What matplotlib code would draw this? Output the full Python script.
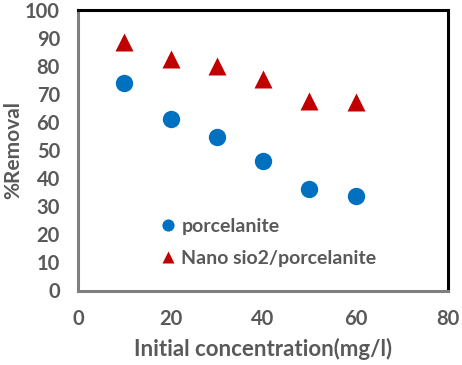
import matplotlib
matplotlib.use("Agg")
import matplotlib.pyplot as plt

conc = [10, 20, 30, 40, 50, 60]
porcelanite = [74.1, 61.3, 54.6, 46.0, 36.2, 33.6]
nano = [88.7, 82.4, 80.2, 75.4, 67.7, 67.2]
xticks = [0, 20, 40, 60, 80]
yticks = [0, 10, 20, 30, 40, 50, 60, 70, 80, 90, 100]

plt.rcParams['font.family'] = ['Lato', 'DejaVu Sans']
plt.rcParams['font.weight'] = 'bold'
gray = '#595959'

fig = plt.figure(figsize=(4.62, 3.65), dpi=100)
ax = fig.add_axes([78/462, 1 - 290.5/365, (448-78)/462, (290.5-10)/365])

ax.plot(conc, porcelanite, 'o', color='#0070C0', ms=12.5, mec='none', label='porcelanite', clip_on=False)
ax.plot(conc, nano, '^', color='#C00000', ms=12.5, mec='none', label='Nano sio2/porcelanite', clip_on=False)

ax.set_xlim(0, 80)
ax.set_ylim(0, 100)
ax.set_xticks(xticks)
ax.set_yticks(yticks)
ax.tick_params(length=0, labelsize=14.5, labelcolor=gray)
ax.tick_params(axis='x', pad=13)
ax.tick_params(axis='y', pad=13)
for lab in ax.get_xticklabels() + ax.get_yticklabels():
    lab.set_fontweight('bold')

ax.spines['left'].set_color('#7f7f7f')
ax.spines['bottom'].set_color('#7f7f7f')
ax.spines['top'].set_color('black')
ax.spines['right'].set_color('black')
for s in ax.spines.values():
    s.set_linewidth(2.2)

ax.set_xlabel('Initial concentration(mg/l)', fontsize=16, color=gray, fontweight='bold', labelpad=7)
ax.set_ylabel('%Removal', fontsize=15, color=gray, fontweight='bold')
ax.yaxis.set_label_coords((23 - 78) / 370, (290.5 - 150) / 280.5)

leg = ax.legend(loc='upper left', bbox_to_anchor=(161/462, 1 - 218/365), bbox_transform=fig.transFigure,
                frameon=False, fontsize=14, markerscale=0.7, handlelength=0.7, handletextpad=0.35,
                labelspacing=0.75, borderpad=0, borderaxespad=0)
for t in leg.get_texts():
    t.set_color(gray)
    t.set_fontweight('bold')

fig.savefig('out.png', dpi=100)
